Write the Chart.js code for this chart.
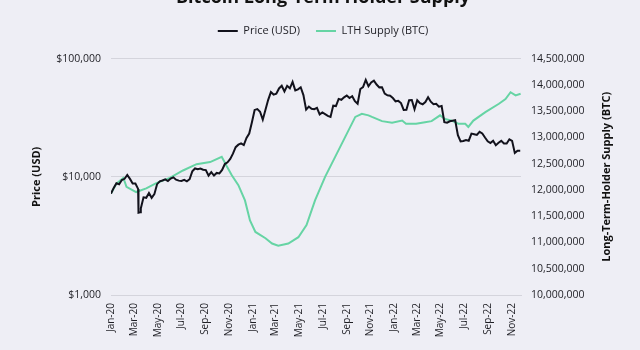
<!DOCTYPE html>
<html>
<head>
<meta charset="utf-8">
<script src="https://cdn.jsdelivr.net/npm/chart.js@4"></script>
<style>
  html, body { margin: 0; padding: 0; background: #eeeef5; overflow: hidden; }
  #wrap { position: absolute; left: 0; top: -18px; width: 640px; height: 368px; }
</style>
</head>
<body>
<div id="wrap"><canvas id="chart"></canvas></div>
<script>
// x-axis ticks (every other month)
const tickDates = ['2020-01-01','2020-03-01','2020-05-01','2020-07-01','2020-09-01','2020-11-01',
  '2021-01-01','2021-03-01','2021-05-01','2021-07-01','2021-09-01','2021-11-01',
  '2022-01-01','2022-03-01','2022-05-01','2022-07-01','2022-09-01','2022-11-01'];
const tickLabels = ['Jan-20','Mar-20','May-20','Jul-20','Sep-20','Nov-20',
  'Jan-21','Mar-21','May-21','Jul-21','Sep-21','Nov-21',
  'Jan-22','Mar-22','May-22','Jul-22','Sep-22','Nov-22'];

// BTC price (USD), roughly weekly
const priceDates = [
  '2020-01-01','2020-01-08','2020-01-15','2020-01-22','2020-01-29','2020-02-05','2020-02-12','2020-02-19',
  '2020-02-26','2020-03-04','2020-03-11','2020-03-12','2020-03-16','2020-03-18','2020-03-25','2020-04-01',
  '2020-04-08','2020-04-15','2020-04-22','2020-04-29','2020-05-06','2020-05-13','2020-05-20','2020-05-27',
  '2020-06-03','2020-06-10','2020-06-17','2020-06-24','2020-07-01','2020-07-08','2020-07-15','2020-07-22',
  '2020-07-29','2020-08-05','2020-08-12','2020-08-19','2020-08-26','2020-09-02','2020-09-09','2020-09-16',
  '2020-09-23','2020-09-30','2020-10-07','2020-10-14','2020-10-21','2020-10-28','2020-11-04','2020-11-11',
  '2020-11-18','2020-11-25','2020-12-02','2020-12-09','2020-12-16','2020-12-23','2020-12-30',
  '2021-01-06','2021-01-13','2021-01-20','2021-01-27','2021-02-03','2021-02-10','2021-02-17','2021-02-24',
  '2021-03-03','2021-03-10','2021-03-17','2021-03-24','2021-03-31','2021-04-07','2021-04-14','2021-04-21',
  '2021-04-28','2021-05-05','2021-05-12','2021-05-19','2021-05-26','2021-06-02','2021-06-09','2021-06-16',
  '2021-06-23','2021-06-30','2021-07-07','2021-07-14','2021-07-21','2021-07-28','2021-08-04','2021-08-11',
  '2021-08-18','2021-08-25','2021-09-01','2021-09-08','2021-09-15','2021-09-22','2021-09-29','2021-10-06',
  '2021-10-13','2021-10-20','2021-10-27','2021-11-03','2021-11-10','2021-11-17','2021-11-24','2021-12-01',
  '2021-12-08','2021-12-15','2021-12-22','2021-12-29',
  '2022-01-05','2022-01-12','2022-01-19','2022-01-26','2022-02-02','2022-02-09','2022-02-16','2022-02-23',
  '2022-03-02','2022-03-09','2022-03-16','2022-03-23','2022-03-30','2022-04-06','2022-04-13','2022-04-20',
  '2022-04-27','2022-05-04','2022-05-11','2022-05-18','2022-05-25','2022-06-01','2022-06-08','2022-06-15',
  '2022-06-22','2022-06-29','2022-07-06','2022-07-13','2022-07-20','2022-07-27','2022-08-03','2022-08-10',
  '2022-08-17','2022-08-24','2022-08-31','2022-09-07','2022-09-14','2022-09-21','2022-09-28','2022-10-05',
  '2022-10-12','2022-10-19','2022-10-26','2022-11-02','2022-11-09','2022-11-16','2022-11-23'];
const prices = [
  7200, 8050, 8820, 8660, 9390, 9620, 10350, 9600,
  8780, 8760, 7900, 4970, 5020, 5400, 6700, 6640,
  7300, 6640, 7130, 8660, 9160, 9310, 9520, 9200,
  9670, 9900, 9450, 9280, 9230, 9430, 9150, 9540,
  11110, 11760, 11570, 11750, 11470, 11400, 10240, 10950,
  10250, 10780, 10670, 11430, 12820, 13270, 14150, 15700,
  17800, 18700, 19200, 18550, 21310, 23240, 28950,
  36800, 37400, 35500, 30430, 37000, 44800, 52100, 49600,
  50400, 55900, 58900, 52800, 58800, 56100, 63500, 53800,
  54900, 57200, 49100, 37000, 39300, 37600, 37300, 38300,
  33700, 35000, 33900, 32800, 32100, 40000, 39700, 45600,
  44800, 47000, 48800, 46400, 48100, 43600, 41500, 55300,
  57400, 66000, 58400, 62900, 65000, 60300, 57100, 57200,
  50600, 48900, 48600, 46400,
  43500, 43900, 42100, 36800, 36900, 44400, 44600, 37300,
  44400, 41900, 41100, 42900, 47100, 43200, 41100, 41400,
  39200, 39700, 29000, 28700, 29500, 29800, 30100, 22500,
  19900, 20100, 20500, 20200, 23200, 22900, 22600, 24000,
  23300, 21500, 20000, 19300, 20200, 18500, 19400, 20150,
  19150, 19100, 20770, 20150, 15900, 16600, 16600];

// long-term holder supply (BTC)
const lthDates = [
  '2020-01-01','2020-01-15','2020-02-02','2020-02-10','2020-03-06','2020-04-01','2020-04-27','2020-06-01',
  '2020-07-05','2020-08-09','2020-09-13','2020-10-13','2020-10-26','2020-11-08','2020-11-25','2020-12-12',
  '2020-12-25','2021-01-08','2021-02-03','2021-02-20','2021-03-08','2021-04-03','2021-04-29','2021-05-20',
  '2021-06-11','2021-07-07','2021-08-02','2021-08-28','2021-09-23','2021-10-10','2021-10-27','2021-11-05',
  '2021-12-01','2021-12-27','2022-01-22','2022-02-01','2022-02-27','2022-03-22','2022-04-08','2022-04-30',
  '2022-05-13','2022-05-30','2022-06-16','2022-07-04','2022-07-12','2022-07-25','2022-08-25','2022-09-29',
  '2022-10-16','2022-10-29','2022-11-11','2022-11-24'];
const lthSupply = [
  11930000, 12120000, 12230000, 12060000, 11960000, 12030000, 12130000, 12230000,
  12370000, 12490000, 12530000, 12630000, 12450000, 12280000, 12090000, 11800000,
  11420000, 11200000, 11080000, 10980000, 10940000, 10980000, 11100000, 11330000,
  11800000, 12250000, 12630000, 13010000, 13390000, 13450000, 13420000, 13390000,
  13310000, 13280000, 13320000, 13260000, 13260000, 13290000, 13310000, 13420000,
  13350000, 13320000, 13260000, 13260000, 13200000, 13320000, 13480000, 13640000,
  13730000, 13860000, 13800000, 13830000];

const priceTicks = [1000, 10000, 100000];

const DAY0 = Date.UTC(2020, 0, 1);
const dayOf = s => (Date.parse(s + 'T00:00:00Z') - DAY0) / 86400000;

Chart.defaults.font.family = '"Open Sans", sans-serif';
Chart.defaults.color = '#1e1e24';

// extra room under the legend
const legendGap = {
  id: 'legendGap',
  beforeInit(chart) {
    const fit = chart.legend.fit;
    chart.legend.fit = function () {
      fit.call(this);
      this.height += 12;
    };
  }
};

// right axis title reads bottom-to-top like the left one
const rightTitle = {
  id: 'rightTitle',
  afterDraw(chart) {
    const s = chart.scales.y2;
    const ctx = chart.ctx;
    ctx.save();
    ctx.translate(s.right - 13, (s.top + s.bottom) / 2);
    ctx.rotate(-Math.PI / 2);
    ctx.font = 'bold 11px "Open Sans", sans-serif';
    ctx.fillStyle = '#111';
    ctx.textAlign = 'center';
    ctx.textBaseline = 'middle';
    ctx.fillText('Long-Term-Holder Supply (BTC)', 0, 0);
    ctx.restore();
  }
};

new Chart(document.getElementById('chart'), {
  type: 'line',
  data: {
    datasets: [
      {
        label: 'Price (USD)',
        data: priceDates.map((d, i) => ({ x: dayOf(d), y: prices[i] })),
        yAxisID: 'y',
        borderColor: '#12121c',
        backgroundColor: '#12121c',
        borderWidth: 2,
        pointRadius: 0
      },
      {
        label: 'LTH Supply (BTC)',
        data: lthDates.map((d, i) => ({ x: dayOf(d), y: lthSupply[i] })),
        yAxisID: 'y2',
        borderColor: '#66d4a4',
        backgroundColor: '#66d4a4',
        borderWidth: 2,
        pointRadius: 0
      }
    ]
  },
  options: {
    responsive: true,
    maintainAspectRatio: false,
    animation: false,
    layout: { padding: { left: 26, right: 20, bottom: 5, top: 0 } },
    plugins: {
      title: {
        display: true,
        text: 'Bitcoin Long-Term Holder Supply',
        font: { size: 18, weight: 'bold' },
        color: '#111',
        padding: { top: 5, bottom: 1 }
      },
      legend: {
        labels: {
          usePointStyle: true,
          pointStyle: 'line',
          pointStyleWidth: 20,
          font: { size: 11 },
          padding: 16
        }
      },
      tooltip: { enabled: false }
    },
    scales: {
      x: {
        type: 'linear',
        min: 0,
        max: dayOf('2022-11-25'),
        afterBuildTicks: s => { s.ticks = tickDates.map(d => ({ value: dayOf(d) })); },
        afterFit: s => { s.height = 50; },
        ticks: {
          autoSkip: false,
          minRotation: 90,
          maxRotation: 90,
          font: { size: 10 },
          padding: 8,
          callback: (v, i) => tickLabels[i]
        },
        grid: { display: false, drawTicks: false },
        border: { color: '#d4d4dc' }
      },
      y: {
        type: 'logarithmic',
        position: 'left',
        min: 1000,
        max: 100000,
        afterBuildTicks: s => { s.ticks = priceTicks.map(v => ({ value: v })); },
        afterFit: s => { s.width = 85; },
        ticks: {
          font: { size: 10.5 },
          padding: 10,
          callback: v => '$' + v.toLocaleString('en-US')
        },
        grid: { color: '#d4d4dc', drawTicks: false },
        border: { display: false },
        title: {
          display: true,
          text: 'Price (USD)',
          font: { size: 11, weight: 'bold' },
          color: '#111',
          padding: { top: 4, bottom: 10 }
        }
      },
      y2: {
        type: 'linear',
        position: 'right',
        min: 10000000,
        max: 14500000,
        afterFit: s => { s.width = 99; },
        ticks: {
          stepSize: 500000,
          font: { size: 10.5 },
          padding: 10,
          callback: v => v.toLocaleString('en-US')
        },
        grid: { display: false, drawTicks: false },
        border: { display: false }
      }
    }
  },
  plugins: [legendGap, rightTitle]
});
</script>
</body>
</html>
